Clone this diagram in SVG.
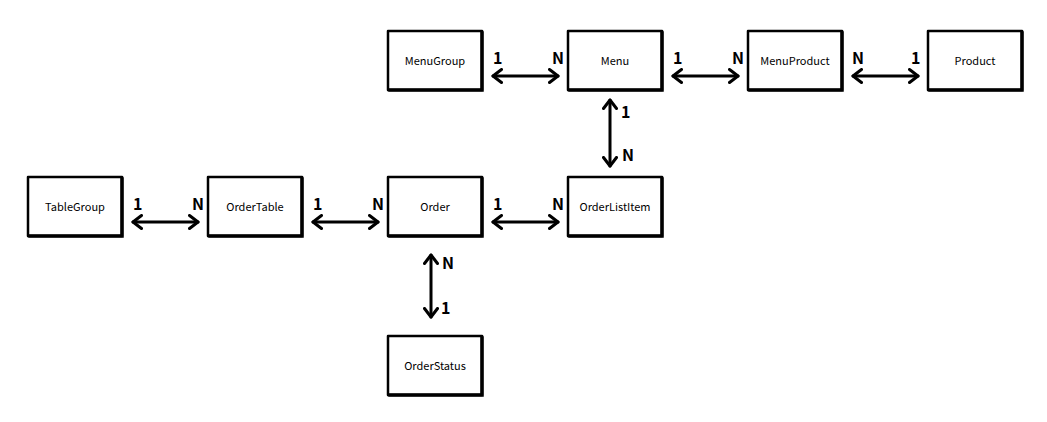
<svg xmlns="http://www.w3.org/2000/svg" width="1047" height="422" viewBox="0 0 1047 422">
<style>
.box{fill:#fff;stroke:#000;stroke-width:2.5;stroke-linejoin:round}
.sh{fill:none;stroke:#000;stroke-width:3.5;stroke-linecap:round}
.lbl{font-family:"Noto Sans CJK KR","Noto Sans",sans-serif;font-size:11px;fill:#000;text-anchor:middle;dominant-baseline:central}
.num{font-family:"Noto Sans CJK KR","Noto Sans",sans-serif;font-size:16px;font-weight:bold;fill:#000}
.ln{fill:none;stroke:#000;stroke-width:3;stroke-linecap:round;marker-start:url(#ah);marker-end:url(#ah)}
</style>
<defs>
<marker id="ah" viewBox="0 0 12 16" refX="10" refY="8" markerWidth="12" markerHeight="16" markerUnits="userSpaceOnUse" orient="auto-start-reverse">
<polyline points="1.5,1.5 10,8 1.5,14.5" fill="none" stroke="#000" stroke-width="3" stroke-linecap="round" stroke-linejoin="round"/>
</marker>
</defs>
<g id="MenuGroup"><rect class="box" x="388" y="31" width="94" height="59"/><path class="sh" d="M482,32 V90 H389"/><text class="lbl" x="435" y="60">MenuGroup</text></g>
<g id="Menu"><rect class="box" x="568" y="31" width="94" height="59"/><path class="sh" d="M662,32 V90 H569"/><text class="lbl" x="615" y="60">Menu</text></g>
<g id="MenuProduct"><rect class="box" x="748" y="31" width="94" height="59"/><path class="sh" d="M842,32 V90 H749"/><text class="lbl" x="795" y="60">MenuProduct</text></g>
<g id="Product"><rect class="box" x="928" y="31" width="94" height="59"/><path class="sh" d="M1022,32 V90 H929"/><text class="lbl" x="975" y="60">Product</text></g>
<g id="TableGroup"><rect class="box" x="28" y="177" width="94" height="59"/><path class="sh" d="M122,178 V236 H29"/><text class="lbl" x="75" y="206">TableGroup</text></g>
<g id="OrderTable"><rect class="box" x="208" y="177" width="94" height="59"/><path class="sh" d="M302,178 V236 H209"/><text class="lbl" x="255" y="206">OrderTable</text></g>
<g id="Order"><rect class="box" x="388" y="177" width="94" height="59"/><path class="sh" d="M482,178 V236 H389"/><text class="lbl" x="435" y="206">Order</text></g>
<g id="OrderListItem"><rect class="box" x="568" y="177" width="94" height="59"/><path class="sh" d="M662,178 V236 H569"/><text class="lbl" x="615" y="206">OrderListItem</text></g>
<g id="OrderStatus"><rect class="box" x="388" y="336" width="94" height="59"/><path class="sh" d="M482,337 V395 H389"/><text class="lbl" x="435" y="365">OrderStatus</text></g>
<g id="connectors">
<line class="ln" x1="493" y1="76" x2="558" y2="76"/>
<line class="ln" x1="673" y1="76" x2="738" y2="76"/>
<line class="ln" x1="853" y1="76" x2="918" y2="76"/>
<line class="ln" x1="133" y1="222" x2="198" y2="222"/>
<line class="ln" x1="313" y1="222" x2="378" y2="222"/>
<line class="ln" x1="493" y1="222" x2="558" y2="222"/>
<line class="ln" x1="610" y1="100" x2="610" y2="166"/>
<line class="ln" x1="431" y1="255" x2="431" y2="317"/>
</g>
<g id="labels">
<text class="num" x="493" y="64">1</text><text class="num" x="552" y="64">N</text>
<text class="num" x="673" y="64">1</text><text class="num" x="732" y="64">N</text>
<text class="num" x="852" y="64">N</text><text class="num" x="911" y="64">1</text>
<text class="num" x="133" y="210">1</text><text class="num" x="192" y="210">N</text>
<text class="num" x="313" y="210">1</text><text class="num" x="372" y="210">N</text>
<text class="num" x="493" y="210">1</text><text class="num" x="552" y="210">N</text>
<text class="num" x="621" y="118">1</text><text class="num" x="622" y="161">N</text>
<text class="num" x="442" y="269">N</text><text class="num" x="441" y="314">1</text>
</g>
</svg>
